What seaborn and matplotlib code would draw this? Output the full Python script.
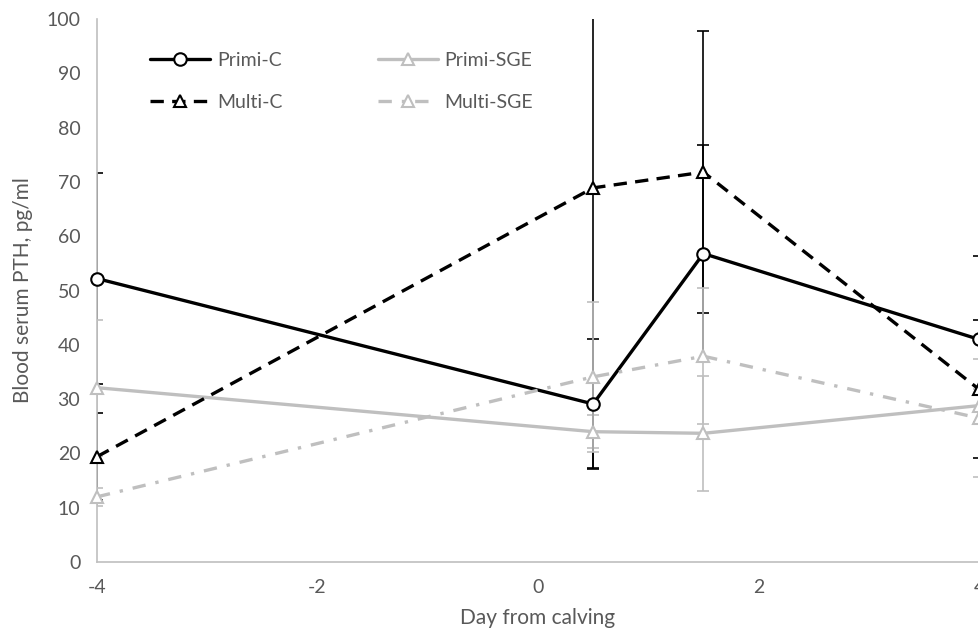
import matplotlib
matplotlib.use("Agg")
import matplotlib.pyplot as plt
import seaborn as sns
import pandas as pd

# Data
days = [-4, 0.5, 1.5, 4]

primi_c = [52.2, 29.1, 56.8, 41.0]
primi_c_err = [19.4, 12.0, 20.0, 15.3]

primi_sge = [32.1, 24.0, 23.7, 28.8]
primi_sge_err = [12.5, 3.0, 10.6, 3.0]

multi_c = [19.4, 68.9, 71.8, 31.8]
multi_c_err = [8.0, 51.6, 26.0, 12.7]

multi_sge = [12.0, 34.1, 37.9, 26.5]
multi_sge_err = [1.6, 13.8, 12.5, 10.8]

y_ticks = list(range(0, 101, 10))
x_ticks = [-4, -2, 0, 2, 4]

sns.set_theme(style="white")
plt.rcParams["font.family"] = ["Lato", "DejaVu Sans"]
plt.rcParams["axes.unicode_minus"] = False

BLACK = "#000000"
GREY = "#bfbfbf"
TEXT = "#595959"

series = [
    ("Primi-C", primi_c, primi_c_err, BLACK, "o", "-"),
    ("Primi-SGE", primi_sge, primi_sge_err, GREY, "^", "-"),
    ("Multi-C", multi_c, multi_c_err, BLACK, "^", (0, (4, 2.5))),
    ("Multi-SGE", multi_sge, multi_sge_err, GREY, "^", (0, (4, 3, 1, 3))),
]

fig = plt.figure(figsize=(9.79, 6.31), dpi=100)
ax = fig.add_axes([97 / 979, 1 - 562 / 631, 882 / 979, 543 / 631])

for i, (name, vals, err, color, marker, ls) in enumerate(series):
    df = pd.DataFrame({"day": days, "pth": vals})
    ax.errorbar(
        days, vals, yerr=err, fmt="none", ecolor=color,
        elinewidth=1.2, capsize=4, capthick=1.2, zorder=2 + 0.1 * i,
    )
    sns.lineplot(
        data=df, x="day", y="pth", ax=ax, label=name, color=color,
        linewidth=2.4, linestyle=ls, marker=marker, markersize=9,
        markerfacecolor="white", markeredgecolor=color, markeredgewidth=1.5,
        zorder=3 + 0.1 * i, clip_on=False,
    )

ax.set_xlim(-4, 4)
ax.set_ylim(0, 100)
ax.set_xticks(x_ticks)
ax.set_yticks(y_ticks)
ax.tick_params(axis="both", length=0, labelsize=14, labelcolor=TEXT, pad=12)

for side in ["top", "right"]:
    ax.spines[side].set_visible(False)
for side in ["left", "bottom"]:
    ax.spines[side].set_color(GREY)
    ax.spines[side].set_linewidth(1.2)

ax.set_xlabel("Day from calving", fontsize=15, color=TEXT)
ax.set_ylabel("Blood serum PTH, pg/ml", fontsize=15, color=TEXT)
ax.xaxis.set_label_coords(0.5, -0.085)
ax.yaxis.set_label_coords(-0.073, 0.5)

handles, labels = ax.get_legend_handles_labels()
order = [labels.index(n) for n in ["Primi-C", "Multi-C", "Primi-SGE", "Multi-SGE"]]
leg = ax.legend(
    [handles[k] for k in order], [labels[k] for k in order],
    ncol=2, loc="upper left", bbox_to_anchor=(0.06, 0.939),
    frameon=False, fontsize=14, borderpad=0, borderaxespad=0,
    handlelength=3.1, handletextpad=0.35, columnspacing=4.9, labelspacing=1.27,
)
for t in leg.get_texts():
    t.set_color(TEXT)

fig.savefig("out.png", dpi=100)
